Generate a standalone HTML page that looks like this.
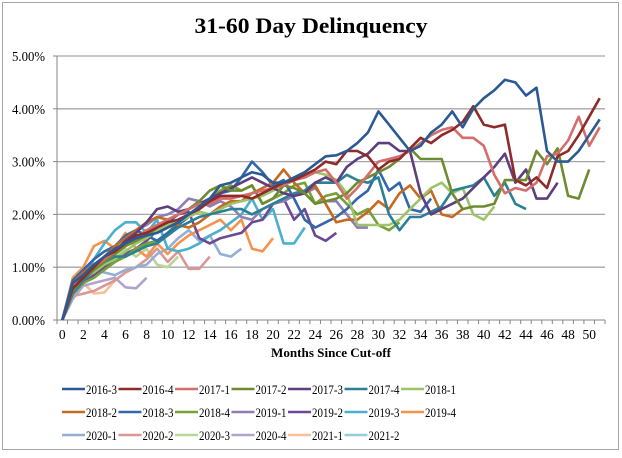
<!DOCTYPE html>
<html><head><meta charset="utf-8"><style>
html,body{margin:0;padding:0;background:#fff;}
body{width:622px;height:453px;overflow:hidden;}
svg text{font-family:"Liberation Serif",serif;}
</style></head><body>
<svg id="chart" width="622" height="453" xmlns="http://www.w3.org/2000/svg">
<rect x="2.5" y="2.5" width="616" height="447" fill="#fff" stroke="#a6a6a6" stroke-width="1"/>
<text x="311" y="33" text-anchor="middle" font-weight="bold" font-size="22" textLength="233" lengthAdjust="spacingAndGlyphs">31-60 Day Delinquency</text>
<text x="331" y="357" text-anchor="middle" font-weight="bold" font-size="13" textLength="120" lengthAdjust="spacingAndGlyphs">Months Since Cut-off</text>
<g id="grid"></g><g id="axes"></g><g id="series"></g><g id="legend"></g>
</svg>
<script>
const seriesNames=["2016-3","2016-4","2017-1","2017-2","2017-3","2017-4","2018-1","2018-2","2018-3","2018-4","2019-1","2019-2","2019-3","2019-4","2020-1","2020-2","2020-3","2020-4","2021-1","2021-2"];
const yTicks=[0,1,2,3,4,5];
const yTickLabels=["0.00%","1.00%","2.00%","3.00%","4.00%","5.00%"];
const xCategoryCount=52;
const s2016_3=[0,0.7,0.85,1.05,1.2,1.35,1.45,1.55,1.6,1.65,1.75,1.85,2.0,2.15,2.3,2.55,2.6,2.7,2.8,2.75,2.6,2.6,2.7,2.8,2.95,3.1,3.12,3.2,3.35,3.55,3.95,3.7,3.45,3.2,3.3,3.55,3.7,3.95,3.65,4.0,4.2,4.35,4.55,4.5,4.25,4.4,3.2,3.0,3.0,3.2,3.5,3.8];
const s2016_4=[0,0.6,0.8,1.0,1.2,1.3,1.45,1.6,1.65,1.75,1.85,1.9,2.0,2.1,2.25,2.35,2.35,2.35,2.3,2.4,2.5,2.6,2.65,2.75,2.85,3.0,2.95,3.2,3.2,3.1,2.85,3.0,3.05,3.25,3.45,3.35,3.5,3.6,3.75,4.05,3.7,3.65,3.7,2.65,2.55,2.7,2.5,3.1,3.2,3.5,3.85,4.2];
const s2017_1=[0,0.65,0.85,1.0,1.15,1.3,1.45,1.55,1.7,1.8,1.9,2.0,2.1,2.2,2.2,2.3,2.3,2.35,2.4,2.45,2.5,2.55,2.65,2.7,2.8,2.85,2.6,2.3,2.5,2.75,3.0,3.05,3.1,3.2,3.35,3.5,3.6,3.65,3.45,3.45,3.3,2.75,2.4,2.5,2.45,2.6,3.1,3.15,3.4,3.85,3.3,3.65];
const s2017_2=[0,0.55,0.8,0.95,1.1,1.25,1.4,1.5,1.6,1.75,1.9,2.0,2.1,2.25,2.45,2.55,2.45,2.45,2.55,2.2,2.3,2.55,2.5,2.4,2.2,2.25,2.3,2.4,2.6,2.7,2.8,2.9,3.05,3.25,3.05,3.05,3.05,2.4,2.1,2.15,2.15,2.2,2.65,2.65,2.65,3.2,2.95,3.25,2.35,2.3,2.85];
const s2017_3=[0,0.6,0.8,1.0,1.15,1.3,1.5,1.65,1.85,2.1,2.15,2.05,2.1,2.2,2.3,2.4,2.5,2.6,2.7,2.6,2.5,2.4,2.35,2.4,2.6,2.7,2.6,2.9,3.05,3.15,3.35,3.35,3.2,3.2,2.4,2.0,2.1,2.2,2.3,2.5,2.7,2.9,3.15,2.6,2.85,2.3,2.3,2.6];
const s2017_4=[0,0.5,0.75,0.95,1.1,1.2,1.2,1.3,1.4,1.45,1.6,1.75,1.85,1.95,2.0,2.05,2.1,2.1,2.0,2.1,2.2,2.3,2.4,2.45,2.6,2.6,2.6,2.75,2.65,2.6,2.7,2.0,1.7,1.95,1.95,2.05,2.15,2.45,2.5,2.55,2.7,2.35,2.6,2.2,2.1];
const s2018_1=[0,0.55,0.8,0.9,1.05,1.15,1.3,1.45,1.55,1.7,1.8,1.85,1.95,2.05,2.0,2.1,2.2,2.25,2.3,2.35,2.45,2.55,2.65,2.7,2.8,2.75,2.65,2.4,1.8,1.8,1.8,1.8,1.9,2.1,2.3,2.5,2.6,2.4,2.5,2.0,1.9,2.15];
const s2018_2=[0,0.7,0.9,1.05,1.2,1.4,1.55,1.7,1.85,1.95,1.9,1.8,1.75,1.85,2.0,2.15,2.25,2.25,2.4,2.5,2.6,2.85,2.6,2.4,2.55,2.2,1.85,1.9,1.9,2.05,2.25,2.1,2.4,2.55,2.3,2.45,2.0,1.95,2.1];
const s2018_3=[0,0.75,0.95,1.15,1.3,1.4,1.6,1.7,1.6,1.5,1.65,1.8,1.95,2.1,2.25,2.4,2.45,2.7,3.0,2.8,2.55,2.65,2.3,1.9,1.75,1.85,1.95,2.1,2.3,2.45,2.85,2.45,2.6,2.1,2.05,2.3];
const s2018_4=[0,0.5,0.7,0.8,0.95,1.1,1.2,1.35,1.45,1.5,1.65,1.85,2.0,2.1,2.3,2.45,2.55,2.45,2.55,2.2,2.3,2.4,2.55,2.6,2.2,2.35,2.4,2.2,2.0,2.1,1.8,1.7,1.85];
const s2019_1=[0,0.55,0.8,1.0,1.2,1.4,1.55,1.7,1.8,1.95,2.0,2.1,2.3,2.25,2.15,2.25,2.15,1.95,1.9,2.1,2.2,2.25,2.35,2.4,2.5,2.25,2.25,2.0,1.75,1.75];
const s2019_2=[0,0.5,0.7,0.85,1.0,1.1,1.25,1.35,1.5,1.7,1.85,2.0,2.05,1.55,1.45,1.55,1.6,1.65,1.85,1.9,2.2,2.3,1.9,2.1,1.6,1.5,1.65];
const s2019_3=[0,0.55,0.8,1.15,1.45,1.7,1.85,1.85,1.65,1.9,1.35,1.3,1.35,1.45,1.6,1.7,1.85,2.0,2.3,1.9,2.1,1.45,1.45,1.75];
const s2019_4=[0,0.8,1.0,1.4,1.5,1.35,1.65,1.35,1.2,1.45,1.25,1.45,1.6,1.7,1.8,1.9,1.7,1.9,1.35,1.3,1.55];
const s2020_1=[0,0.45,0.7,0.95,0.9,0.85,0.95,1.0,1.05,1.25,1.35,1.55,1.7,1.5,1.6,1.25,1.2,1.35];
const s2020_2=[0,0.45,0.5,0.55,0.65,0.75,0.9,1.0,1.15,1.35,1.1,1.3,0.97,0.97,1.2];
const s2020_3=[0,0.55,0.75,0.9,1.05,1.2,1.35,1.2,1.35,1.05,1.0,1.2];
const s2020_4=[0,0.4,0.65,0.7,0.75,0.8,0.62,0.6,0.8];
const s2021_1=[0,0.7,0.7,0.5,0.52,0.75];
const s2021_2=[0,0.5,0.65];
const allSeries=[s2016_3,s2016_4,s2017_1,s2017_2,s2017_3,s2017_4,s2018_1,s2018_2,s2018_3,s2018_4,s2019_1,s2019_2,s2019_3,s2019_4,s2020_1,s2020_2,s2020_3,s2020_4,s2021_1,s2021_2];
const colors=["#2B5A93","#8E2B2A","#D46E6B","#6E8B32","#5D3F7E","#2A8195","#9DC468","#C46A22","#3467A9","#77A03A","#8F7DB5","#6B4A92","#4BB0CE","#F5934E","#95AED6","#D99795","#B9D59A","#B2A3CC","#F9BE9A","#93CDDD"];

const NS="http://www.w3.org/2000/svg";
const L=57,R=605,T=56,B=320,YMAX=5;
const bw=(R-L)/xCategoryCount;
function xs(i){return L+bw*(i+0.5);}
function ys(v){return B-(v/YMAX)*(B-T);}
function mk(tag,attrs,parent){const e=document.createElementNS(NS,tag);for(const k in attrs)e.setAttribute(k,attrs[k]);parent.appendChild(e);return e;}
const grid=document.getElementById('grid'),axes=document.getElementById('axes'),ser=document.getElementById('series'),leg=document.getElementById('legend');
yTicks.forEach((t,i)=>{
  if(t>0){const g=mk('line',{x1:L,x2:R,y1:ys(t),y2:ys(t),stroke:'#a6a6a6','stroke-width':1.3},grid);
  
  }
  const tx=mk('text',{x:45,y:ys(t)+5,'text-anchor':'end','font-size':13.5,textLength:33,lengthAdjust:'spacingAndGlyphs'},axes);
  tx.textContent=yTickLabels[i];
  
  
  const tk=mk('line',{x1:L-4,x2:L,y1:ys(t),y2:ys(t),stroke:'#868686'},axes);
  
  
});
const ya=mk('line',{x1:L,x2:L,y1:T,y2:B,stroke:'#868686','stroke-width':1},axes);


const xa=mk('line',{x1:L,x2:R,y1:B,y2:B,stroke:'#868686','stroke-width':1},axes);


for(let i=0;i<=xCategoryCount;i++){
  const tk=mk('line',{x1:L+bw*i,x2:L+bw*i,y1:B,y2:B+4,stroke:'#868686'},axes);
  
  
}
for(let i=0;i<xCategoryCount;i+=2){
  const tx=mk('text',{x:xs(i),y:B+19,'text-anchor':'middle','font-size':13.5},axes);
  tx.textContent=String(i);
  
  
}
for(let s=allSeries.length-1;s>=0;s--){
  const d=allSeries[s].map((v,i)=>(i?'L':'M')+xs(i).toFixed(1)+','+ys(v).toFixed(1)).join(' ');
  const p=mk('path',{d:d,fill:'none',stroke:colors[s],'stroke-width':2.6,'stroke-linejoin':'round'},ser);
  
  
}
seriesNames.forEach((n,i)=>{
  const row=Math.floor(i/7),col=i%7;
  const x=62+col*56.5,y=389+row*23;
  const g=mk('g',{},leg);
  
  
  mk('line',{x1:x,x2:x+23,y1:y,y2:y,stroke:colors[i],'stroke-width':2.6},g);
  const t=mk('text',{x:x+24,y:y+5,'font-size':13,textLength:31,lengthAdjust:'spacingAndGlyphs'},g);
  t.textContent=n;
});
</script>
</body></html>
